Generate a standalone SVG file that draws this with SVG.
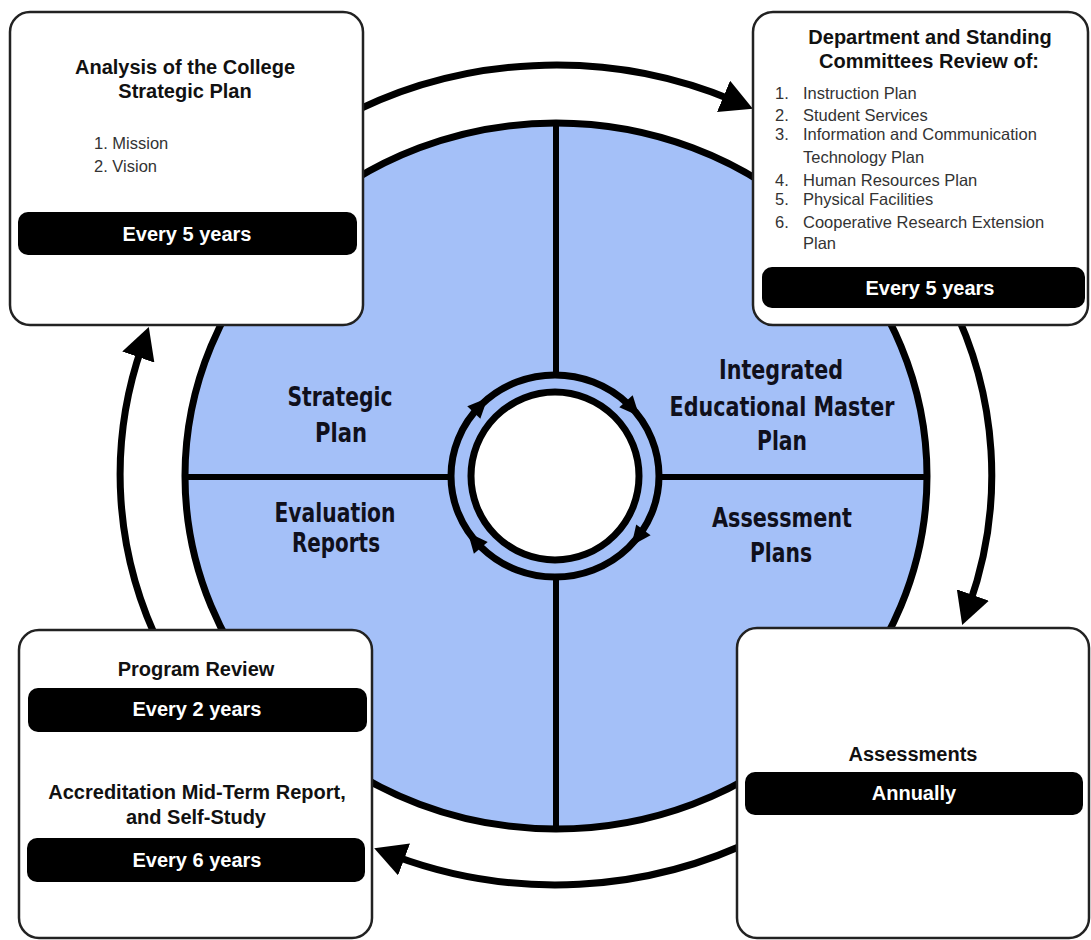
<svg xmlns="http://www.w3.org/2000/svg" width="1091" height="940" viewBox="0 0 1091 940">
<style>
.box{fill:#fff;stroke:#222;stroke-width:2.5}
.bar{fill:#000}
.ttl{font-family:"Liberation Sans",Arial,sans-serif;font-weight:bold;font-size:20px;fill:#111;text-anchor:middle}
.wht{font-family:"Liberation Sans",Arial,sans-serif;font-weight:bold;font-size:20px;fill:#fff;text-anchor:middle}
.lst{font-family:"Liberation Sans",Arial,sans-serif;font-size:16.5px;fill:#333}
.q{font-family:"DejaVu Sans Condensed","DejaVu Sans",sans-serif;font-stretch:condensed;font-weight:bold;font-size:26px;fill:#10101c;text-anchor:middle}
.ring{fill:none;stroke:#000;stroke-width:7}
.conn{fill:none;stroke:#000;stroke-width:7}
</style>
<defs>
<marker id="arr" markerUnits="userSpaceOnUse" markerWidth="34" markerHeight="34" viewBox="0 0 32 32" refX="10" refY="16" orient="auto">
<path d="M0,0 L30,16 L0,32 Z" fill="#000"/>
</marker>
<polygon id="tri" points="11,0 -9,-9 -9,9" fill="#000"/>
</defs>
<rect width="1091" height="940" fill="#fff"/>

<g id="wheel">
<ellipse cx="556" cy="476" rx="371" ry="353" fill="#a4c0f8" stroke="#000" stroke-width="7"/>
<line x1="556" y1="122" x2="556" y2="376" stroke="#000" stroke-width="6"/>
<line x1="556" y1="576" x2="556" y2="829" stroke="#000" stroke-width="6"/>
<line x1="185" y1="477" x2="452" y2="477" stroke="#000" stroke-width="6"/>
<line x1="658" y1="477" x2="927" y2="477" stroke="#000" stroke-width="6"/>
<ellipse cx="555" cy="476" rx="104" ry="101" class="ring"/>
<circle cx="555" cy="476" r="84" fill="#fff" stroke="#000" stroke-width="7"/>
<use href="#tri" transform="translate(480,406) rotate(-46.5)"/>
<use href="#tri" transform="translate(632,408) rotate(48)"/>
<use href="#tri" transform="translate(638,537) rotate(127)"/>
<use href="#tri" transform="translate(475,541) rotate(230)"/>
<text class="q" x="340" y="406" textLength="105" lengthAdjust="spacingAndGlyphs">Strategic</text>
<text class="q" x="341" y="442" textLength="52" lengthAdjust="spacingAndGlyphs">Plan</text>
<text class="q" x="781" y="379" textLength="124" lengthAdjust="spacingAndGlyphs">Integrated</text>
<text class="q" x="782" y="416" textLength="225" lengthAdjust="spacingAndGlyphs">Educational Master</text>
<text class="q" x="782" y="450" textLength="50" lengthAdjust="spacingAndGlyphs">Plan</text>
<text class="q" x="335" y="522" textLength="121" lengthAdjust="spacingAndGlyphs">Evaluation</text>
<text class="q" x="336" y="552" textLength="88" lengthAdjust="spacingAndGlyphs">Reports</text>
<text class="q" x="782" y="527" textLength="140" lengthAdjust="spacingAndGlyphs">Assessment</text>
<text class="q" x="781" y="562" textLength="62" lengthAdjust="spacingAndGlyphs">Plans</text>
</g>

<g id="connectors">
<path class="conn" d="M338,120 A436,410 0 0 1 733.3,100.5" marker-end="url(#arr)"/>
<path class="conn" d="M950,300 A436,410 0 0 1 969.3,605" marker-end="url(#arr)"/>
<path class="conn" d="M760,837 A436,410 0 0 1 394.1,855.7" marker-end="url(#arr)"/>
<path class="conn" d="M162,650 A436,410 0 0 1 141.8,347" marker-end="url(#arr)"/>
</g>

<g id="node-strategic-analysis">
<rect class="box" x="10" y="12" width="353" height="313" rx="20"/>
<text class="ttl" x="185" y="74">Analysis of the College</text>
<text class="ttl" x="185" y="98">Strategic Plan</text>
<text class="lst" x="94" y="149">1. Mission</text>
<text class="lst" x="94" y="172">2. Vision</text>
<rect class="bar" x="18" y="212" width="339" height="43" rx="10"/>
<text class="wht" x="187" y="241">Every 5 years</text>
</g>

<g id="node-department-review">
<rect class="box" x="753" y="12" width="335" height="313" rx="20"/>
<text class="ttl" x="930" y="44">Department and Standing</text>
<text class="ttl" x="929" y="68">Committees Review of:</text>
<text class="lst" x="775" y="99">1.</text><text class="lst" x="803" y="99">Instruction Plan</text>
<text class="lst" x="775" y="121">2.</text><text class="lst" x="803" y="121">Student Services</text>
<text class="lst" x="775" y="140">3.</text><text class="lst" x="803" y="140">Information and Communication</text>
<text class="lst" x="803" y="163">Technology Plan</text>
<text class="lst" x="775" y="186">4.</text><text class="lst" x="803" y="186">Human Resources Plan</text>
<text class="lst" x="775" y="205">5.</text><text class="lst" x="803" y="205">Physical Facilities</text>
<text class="lst" x="775" y="228">6.</text><text class="lst" x="803" y="228">Cooperative Research Extension</text>
<text class="lst" x="803" y="249">Plan</text>
<rect class="bar" x="762" y="267" width="323" height="41" rx="10"/>
<text class="wht" x="930" y="295">Every 5 years</text>
</g>

<g id="node-assessments">
<rect class="box" x="737" y="628" width="352" height="310" rx="20"/>
<text class="ttl" x="913" y="761">Assessments</text>
<rect class="bar" x="745" y="772" width="338" height="43" rx="10"/>
<text class="wht" x="914" y="800">Annually</text>
</g>

<g id="node-program-review">
<rect class="box" x="19" y="630" width="353" height="308" rx="20"/>
<text class="ttl" x="196" y="676">Program Review</text>
<rect class="bar" x="28" y="688" width="339" height="44" rx="10"/>
<text class="wht" x="197" y="716">Every 2 years</text>
<text class="ttl" x="197" y="799">Accreditation Mid-Term Report,</text>
<text class="ttl" x="196" y="824">and Self-Study</text>
<rect class="bar" x="27" y="838" width="338" height="44" rx="10"/>
<text class="wht" x="197" y="867">Every 6 years</text>
</g>
</svg>
